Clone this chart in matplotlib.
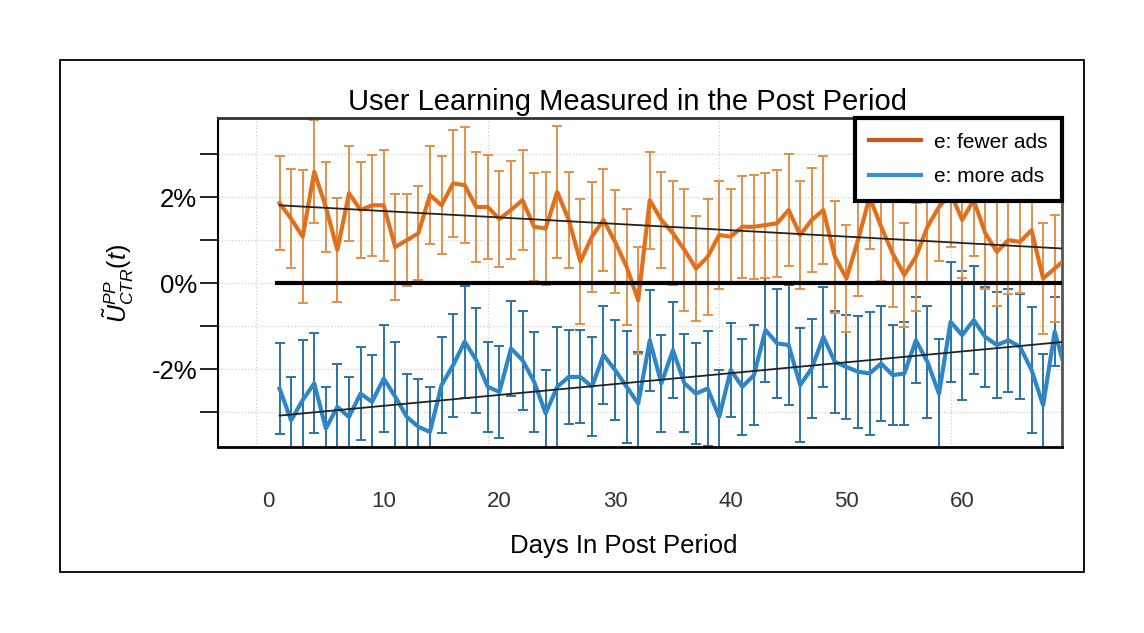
import numpy as np
import matplotlib
matplotlib.use("Agg")
import matplotlib.pyplot as plt
from matplotlib.patches import Rectangle

plt.rcParams['font.family'] = ['Liberation Sans', 'DejaVu Sans']
plt.rcParams['mathtext.fontset'] = 'custom'
plt.rcParams['mathtext.rm'] = 'Liberation Sans'
plt.rcParams['mathtext.it'] = 'Liberation Sans:italic'

# --- data (percent) ---
days = list(range(1, 70))

fewer_ads = [1.86, 1.50, 1.08, 2.59, 1.77, 0.77, 2.09, 1.70, 1.81, 1.81,
             0.84, 1.00, 1.16, 2.05, 1.81, 2.32, 2.28, 1.77, 1.77, 1.49,
             1.70, 1.93, 1.31, 1.27, 2.12, 1.47, 0.50, 1.08, 1.47, 0.96,
             0.38, -0.40, 1.93, 1.47, 1.16, 0.77, 0.34, 0.61, 1.12, 1.08,
             1.31, 1.31, 1.35, 1.39, 1.70, 1.12, 1.47, 1.70, 0.61, 0.11,
             1.00, 2.00, 1.31, 0.69, 0.19, 0.61, 1.31, 1.77, 2.10, 1.47,
             1.93, 1.16, 0.73, 1.00, 0.96, 1.23, 0.11, 0.34, 0.57]
fewer_err = [1.09, 1.15, 1.54, 1.20, 1.05, 1.22, 1.10, 1.11, 1.18, 1.29,
             1.23, 1.07, 1.09, 1.14, 1.14, 1.25, 1.34, 1.27, 1.21, 1.12,
             1.14, 1.17, 1.25, 1.31, 1.53, 1.11, 1.45, 1.28, 1.18, 1.20,
             1.35, 1.25, 1.13, 1.12, 1.21, 1.41, 1.22, 1.35, 1.26, 1.10,
             1.19, 1.21, 1.22, 1.24, 1.30, 1.25, 1.20, 1.25, 1.30, 1.25,
             1.30, 1.20, 1.25, 1.25, 1.20, 1.25, 1.30, 1.25, 1.25, 1.35,
             1.30, 1.30, 1.25, 1.25, 1.20, 1.25, 1.30, 1.25, 1.20]

more_ads = [-2.45, -3.19, -2.72, -2.33, -3.38, -2.88, -3.11, -2.57, -2.76, -2.22,
            -2.64, -3.11, -3.34, -3.46, -2.37, -1.91, -1.36, -1.79, -2.41, -2.53,
            -1.52, -1.79, -2.29, -3.03, -2.41, -2.18, -2.18, -2.41, -1.67, -2.02,
            -2.41, -2.80, -1.33, -2.33, -1.56, -2.33, -2.57, -2.45, -3.11, -2.02,
            -2.41, -2.14, -1.09, -1.40, -1.44, -2.37, -1.98, -1.25, -1.83, -1.95,
            -2.06, -2.10, -1.87, -2.14, -2.10, -1.33, -1.83, -2.57, -0.90, -1.21,
            -0.86, -1.25, -1.44, -1.33, -1.48, -2.02, -2.84, -1.13, -2.10]
more_err = [1.05, 1.00, 1.40, 1.16, 0.97, 1.00, 0.93, 1.08, 1.08, 1.24,
            1.27, 1.00, 1.10, 1.05, 1.12, 1.20, 1.30, 1.22, 1.05, 1.08,
            1.11, 1.15, 1.16, 1.00, 1.40, 1.10, 1.08, 1.15, 1.15, 1.17,
            1.30, 1.20, 1.18, 1.12, 1.12, 1.14, 1.17, 1.34, 1.10, 1.10,
            1.12, 1.17, 1.22, 1.27, 1.40, 1.32, 1.15, 1.17, 1.18, 1.22,
            1.30, 1.43, 1.34, 1.16, 1.20, 1.00, 1.30, 1.27, 1.40, 1.50,
            1.26, 1.17, 1.24, 1.19, 1.22, 1.46, 1.20, 0.80, 1.20]

# linear trends (end points)
trend_days = [1, 69]
fewer_trend = [1.81, 0.80]
more_trend = [-3.08, -1.36]

x_ticks = [0, 10, 20, 30, 40, 50, 60]
y_ticks = [-3, -2, -1, 0, 1, 2, 3]
y_labels = ['', '-2%', '', '0%', '', '2%', '']
vgrid = [-1, 19, 39, 59]

ORANGE = '#e0701c'
ORANGE_ERR = '#e3904a'
BLUE = '#2f86c6'
BLUE_ERR = '#2a73a8'

W, H = 1144, 633
fig = plt.figure(figsize=(W / 100, H / 100), dpi=100)
ax = fig.add_axes([218 / W, 1 - 447 / H, (1062 - 218) / W, (447 - 118) / H])

# outer frame
fig.add_artist(Rectangle((60 / W, 1 - 572 / H), 1024 / W, 512 / H,
                         transform=fig.transFigure, fill=False, lw=1.3, ec='black'))

# faint dotted grid
for yv in y_ticks:
    ax.axhline(yv, color='#cfcfcf', lw=0.9, ls=':', zorder=0)
for xv in vgrid:
    ax.axvline(xv, color='#cfcfcf', lw=0.9, ls=':', zorder=0)

ax.errorbar(days, more_ads, yerr=more_err, fmt='none', ecolor=BLUE_ERR,
            elinewidth=1.4, capsize=3.5, capthick=1.4, zorder=2)
ax.errorbar(days, fewer_ads, yerr=fewer_err, fmt='none', ecolor=ORANGE_ERR,
            elinewidth=1.4, capsize=3.5, capthick=1.4, zorder=2)
ax.plot(days, fewer_ads, color=ORANGE, lw=3, zorder=3)
ax.plot(days, more_ads, color=BLUE, lw=3, zorder=3)

# zero reference line and trends
ax.plot([0.8, 70], [0, 0], color='black', lw=3, zorder=4)
ax.plot(trend_days, fewer_trend, color='#222222', lw=1.3, zorder=4)
ax.plot(trend_days, more_trend, color='#222222', lw=1.3, zorder=4)

ax.set_xlim(-4.32, 68.63)
ax.set_ylim(-3.81, 3.84)

ax.set_yticks(y_ticks)
ax.set_yticklabels(y_labels, fontsize=18.5)
ax.tick_params(axis='y', direction='out', length=13, width=1.4, pad=2, color='#222222')
ax.set_xticks(x_ticks)
ax.set_xticklabels([str(v) for v in x_ticks], fontsize=16, color='#333333')
ax.tick_params(axis='x', length=0, pad=32)

ax.spines['left'].set_linewidth(1.5)
ax.spines['bottom'].set_linewidth(2)
ax.spines['top'].set_linewidth(2)
ax.spines['top'].set_color('#333333')
ax.spines['right'].set_linewidth(2)
ax.spines['right'].set_color('#555555')

fig.text(628 / W, 1 - 102 / H, 'User Learning Measured in the Post Period',
         ha='center', va='center', fontsize=21)
fig.text(624 / W, 1 - 546 / H, 'Days In Post Period', ha='center', va='center',
         fontsize=18.5)
fig.text(118 / W, 1 - 283 / H, r'$\tilde{U}^{PP}_{CTR}(t)$', rotation=90,
         ha='center', va='center', fontsize=18)

h1, = ax.plot([], [], color='#d2521a', lw=3, label='e: fewer ads')
h2, = ax.plot([], [], color='#3a8fd0', lw=3, label='e: more ads')
leg = ax.legend(handles=[h1, h2], loc='upper right', bbox_to_anchor=(1.0, 1.0),
                borderaxespad=0, fontsize=15, handlelength=2.5, handletextpad=0.6,
                fancybox=False, framealpha=1, edgecolor='black',
                borderpad=0.7, labelspacing=0.75)
leg.get_frame().set_linewidth(3)
leg.set_zorder(10)

fig.savefig('out.png', dpi=100)
